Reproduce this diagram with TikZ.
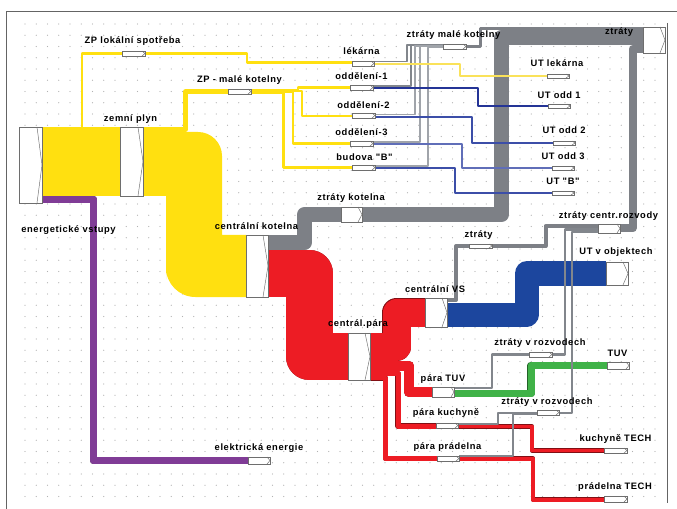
\documentclass[tikz,border=0pt]{standalone}
\usepackage{fontspec}
\usepackage{xcolor}
\newfontfamily\lblfont[LetterSpace=6.5,Ligatures=TeXOff]{Liberation Sans}
\definecolor{sgyellow}{RGB}{255,224,16}
\definecolor{sgltyellow}{RGB}{250,226,90}
\definecolor{sgred}{RGB}{237,28,36}
\definecolor{sggray}{RGB}{125,128,134}
\definecolor{sglngray}{RGB}{130,134,140}
\definecolor{sgltgray}{RGB}{160,164,170}
\definecolor{sgblue}{RGB}{28,70,158}
\definecolor{sgdkblue}{RGB}{36,52,150}
\definecolor{sgmdblue}{RGB}{60,78,168}
\definecolor{sgltblue}{RGB}{96,110,184}
\definecolor{sggreen}{RGB}{64,178,72}
\definecolor{sgpurple}{RGB}{128,60,150}
\definecolor{boxgray}{RGB}{110,110,110}
\definecolor{framegray}{RGB}{100,100,100}

\begin{document}
\begin{tikzpicture}[x=0.75pt,y=0.75pt,yscale=-1,xscale=1,
  box/.style={draw=boxgray,fill=white,line width=0.5pt},
  chev/.style={draw=boxgray,line width=0.35pt},
  band/.style={line width=#1,line join=round},
  oband/.style 2 args={draw=#1!55!black,line width=0.3pt,double=#1,double distance=#2,line join=round},
  lbl/.style={font=\lblfont\bfseries\fontsize{7}{8}\selectfont,inner sep=0.75pt}]
\useasboundingbox (0,0) rectangle (677,509);
\foreach \i in {0,...,56} \foreach \j in {0,...,42} \fill[gray!60] ({25+\i*11.25},{24+\j*11.25}) circle (0.4pt);
\draw[framegray,line width=0.75pt] (6,509) -- (6,12) -- (677,12);
\draw[framegray,line width=0.75pt] (667,23) -- (667,503);

\fill[sgyellow] (42,127) rectangle (120,196);
\fill[sgyellow] (143,132) -- (190,132) [rounded corners=18pt] -- (222,132) -- (222,180) [sharp corners] -- (222,235) -- (246,235) -- (246,297) -- (200,297) [rounded corners=22pt] -- (166,297) -- (166,250) [sharp corners] -- (166,196) -- (143,196) -- cycle;
\draw[sggray,band=11.25pt] (268,242.5) -- (304.5,242.5) -- (304.5,214.5) -- (501.5,214.5) -- (501.5,37.5) -- (643,37.5);
\draw[sggray,band=2.25pt] (466,46.5) -- (480,46.5) -- (480,28.5) -- (643,28.5);
\draw[sggray,band=6pt] (620,228.5) -- (632.5,228.5) -- (632.5,49) -- (643,49);
\draw[oband={sgred}{35.25pt}] (268,273.5) -- (309.5,273.5) -- (309.5,356.5) -- (348,356.5);
\draw[oband={sgred}{21pt}] (370,347) -- (396.5,347) -- (396.5,312.5) -- (425,312.5);
\draw[oband={sgred}{7.5pt}] (370,366) -- (409,366) -- (409,392) -- (432,392);
\draw[oband={sgred}{3.4pt}] (370,378) -- (385.5,378) -- (385.5,458.5) -- (437,458.5);
\draw[oband={sgred}{3.75pt}] (370,373.5) -- (398,373.5) -- (398,426) -- (436,426);
\draw[oband={sgred}{2.6pt}] (458,426.5) -- (532,426.5) -- (532,450.5) -- (604,450.5);
\draw[oband={sgred}{3pt}] (459,458.5) -- (533,458.5) -- (533,499.5) -- (604,499.5);
\draw[sgblue,band=18pt] (447,314.5) -- (526.5,314.5) -- (526.5,273.5) -- (606,273.5);
\draw[oband={sggreen}{5.25pt}] (454,393.5) -- (531,393.5) -- (531,365.5) -- (607,365.5);
\draw[oband={sgpurple}{5.25pt}] (42,199.5) -- (93.5,199.5) -- (93.5,460.5) -- (248,460.5);

\draw[sglngray,band=1.2pt] (374,61.5) -- (407,61.5) -- (407,45) -- (443,45);
\draw[sglngray,band=1.2pt] (373,86) -- (411,86) -- (411,45.5) -- (443,45.5);
\draw[sgltgray,band=1.2pt] (375,114.5) -- (415,114.5) -- (415,46) -- (443,46);
\draw[sgltgray,band=1.2pt] (373,142) -- (420,142) -- (420,46.5) -- (443,46.5);
\draw[sgltgray,band=1.2pt] (375,166) -- (428,166) -- (428,47.5) -- (443,47.5);

\draw[sgyellow,band=1.8pt] (42,128) -- (82,128) -- (82,53.5) -- (247,53.5) -- (247,62.5) -- (352,62.5);
\draw[sgyellow,band=3.4pt] (143,129.5) -- (185.5,129.5) -- (185.5,91.5) -- (283.5,91.5);
\draw[sgyellow,band=1.8pt] (251,93) -- (283.5,93) -- (283.5,167.5) -- (352,167.5);
\draw[sgyellow,band=1.8pt] (251,92) -- (293,92) -- (293,143.5) -- (350,143.5);
\draw[sgyellow,band=1.8pt] (251,91) -- (302,91) -- (302,116) -- (352,116);
\draw[sgyellow,band=1.8pt] (251,90) -- (298,90) -- (298,87.5) -- (350,87.5);
\draw[sgltyellow,band=1.6pt] (374,64) -- (460,64) -- (460,76) -- (547,76);
\draw[sgdkblue,band=2pt] (373,88) -- (478,88) -- (478,106) -- (548,106);
\draw[sgmdblue,band=1.5pt] (375,117) -- (472,117) -- (472,143) -- (553,143);
\draw[sgltblue,band=1.5pt] (373,144) -- (462,144) -- (462,168) -- (552,168);
\draw[sgmdblue,band=1.5pt] (375,168) -- (455,168) -- (455,193) -- (552,193);

\draw[sggray,band=3pt] (447,300) -- (456,300) -- (456,246) -- (545.5,246) -- (545.5,226) -- (598,226);
\draw[sglngray,band=1.9pt] (454,388.2) -- (492,388.2) -- (492,354.5) -- (565,354.5) -- (565,229.5) -- (598,229.5);
\draw[sglngray,band=1.5pt] (458,423.5) -- (498,423.5) -- (498,412.5) -- (572,412.5) -- (572,232) -- (598,232);
\draw[sglngray,band=1.5pt] (459,456) -- (513,456) -- (513,413.5) -- (537,413.5);

\foreach \xa/\ya/\xb/\yb/\d in {19/127/42/203/5, 120/127/143/196/5, 122/51/145/56/3, 228/89/251/94/3,
  246/235/268/297/5, 341/207/362/222/4, 352/61/374/66/3, 350/85/373/90/3, 352/113/375/118/3,
  350/141/373/146/3, 352/165/375/170/3, 443/44/466/49/3, 643/27/665/53/5, 547/74/569/78/3,
  548/104/570/108/3, 553/141/575/145/3, 552/166/574/170/3, 552/191/574/195/3, 598/224/620/233/3,
  469/244/492/248/3, 606/262/628/285/5, 425/298/447/327/5, 348/333/370/380/5, 529/352/552/357/3,
  607/362/629/369/3, 432/387/454/397/3, 537/410/559/415/3, 436/423/458/428/3, 604/448/627/453/3,
  437/456/459/461/3, 604/496/627/502/3, 248/457/270/464/3}
{
  \draw[box] (\xa,\ya) rectangle (\xb,\yb);
  \draw[chev] ({\xb-\d},\ya) -- (\xb,{(\ya+\yb)/2}) -- ({\xb-\d},\yb);
}

\node[lbl] (zplok) at (132.5,41) {ZP lokální spotřeba};
\node[lbl] (zpmale) at (239.5,80) {ZP - malé kotelny};
\node[lbl] (plyn) at (130.5,119) {zemní plyn};
\node[lbl] (vstupy) at (68.5,230) {energetické vstupy};
\node[lbl] (kotelna) at (256.5,226) {centrální kotelna};
\node[lbl] (ztrkot) at (351,198) {ztráty kotelna};
\node[lbl] (lekarna) at (361.5,51.5) {lékárna};
\node[lbl] (odd1) at (361.5,76) {oddělení-1};
\node[lbl] (odd2) at (363.5,105) {oddělení-2};
\node[lbl] (odd3) at (361.5,132) {oddělení-3};
\node[lbl] (budb) at (364.5,157) {budova "B"};
\node[lbl] (ztrmale) at (453.5,35) {ztráty malé kotelny};
\node[lbl] (ztraty) at (619,32.5) {ztráty};
\node[lbl] (utlek) at (557,63.3) {UT lekárna};
\node[lbl] (utodd1) at (559,95) {UT odd 1};
\node[lbl] (utodd2) at (564,130) {UT odd 2};
\node[lbl] (utodd3) at (563,156.5) {UT odd 3};
\node[lbl] (utb) at (563,181) {UT "B"};
\node[lbl] (ztrcentr) at (608.5,216) {ztráty centr.rozvody};
\node[lbl] (ztrvs) at (478.5,235) {ztráty};
\node[lbl] (utobj) at (616,252) {UT v objektech};
\node[lbl] (centvs) at (435,289) {centrální VS};
\node[lbl] (centpara) at (358,324.5) {centrál.pára};
\node[lbl] (ztrroz1) at (540,343.5) {ztráty v rozvodech};
\node[lbl] (tuv) at (617.5,353.3) {TUV};
\node[lbl] (paratuv) at (443,379.3) {pára TUV};
\node[lbl] (ztrroz2) at (547,401.7) {ztráty v rozvodech};
\node[lbl] (parakuch) at (446,413.3) {pára kuchyně};
\node[lbl] (kuchtech) at (615.5,439.3) {kuchyně TECH};
\node[lbl] (parapra) at (447.5,446.7) {pára prádelna};
\node[lbl] (pratech) at (615,486.7) {prádelna TECH};
\node[lbl] (elen) at (259,448.3) {elektrická energie};
\end{tikzpicture}
\end{document}
